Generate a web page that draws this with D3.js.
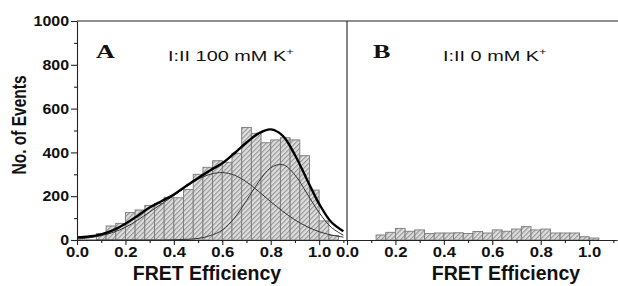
<!DOCTYPE html>
<html>
<head>
<meta charset="utf-8">
<script src="https://cdn.jsdelivr.net/npm/d3@7/dist/d3.min.js"></script>
<style>
body { margin: 0; background: #fff; }
svg { display: block; }
</style>
</head>
<body>
<div id="chart"></div>
<script>
// histogram bins: left edge of each 0.04 wide bin, and counts
var binsA = [0.08, 0.12, 0.16, 0.20, 0.24, 0.28, 0.32, 0.36, 0.40, 0.44, 0.48, 0.52, 0.56,
             0.60, 0.64, 0.68, 0.72, 0.76, 0.80, 0.84, 0.88, 0.92, 0.96, 1.00, 1.04];
var countsA = [30, 64, 76, 125, 137, 158, 167, 195, 193, 231, 300, 332, 362,
               355, 396, 514, 487, 444, 457, 467, 457, 385, 228, 87, 21];

var binsB = [0.12, 0.16, 0.20, 0.24, 0.28, 0.32, 0.36, 0.40, 0.44, 0.48, 0.52, 0.56,
             0.60, 0.64, 0.68, 0.72, 0.76, 0.80, 0.84, 0.88, 0.92, 0.96, 1.00];
var countsB = [23, 35, 53, 40, 46, 30, 32, 32, 33, 30, 39, 32,
               46, 40, 50, 61, 46, 50, 32, 32, 32, 15, 9];

// fitted curves of panel A
var fitE     = [0, 0.05, 0.1, 0.15, 0.2, 0.25, 0.3, 0.35, 0.4, 0.45, 0.5, 0.55,
                0.6, 0.65, 0.7, 0.75, 0.8, 0.85, 0.9, 0.95, 1.0, 1.05, 1.1];
var fitTotal = [12, 16, 26, 45, 74, 110, 148, 178, 208, 246, 283, 318,
                350, 396, 445, 487, 505, 476, 388, 275, 165, 82, 40];
var fitLow   = [5, 10, 20, 35, 58, 90, 128, 165, 203, 242, 277, 300,
                308, 296, 265, 222, 175, 131, 92, 61, 38, 23, 13];
var fitHigh  = [0, 0, 0, 0, 0, 0, 0, 0, 1, 3, 7, 20,
                45, 100, 180, 265, 330, 344, 297, 212, 125, 58, 22];

var xTicks = [0, 0.2, 0.4, 0.6, 0.8, 1.0];
var xMinor = [0.1, 0.3, 0.5, 0.7, 0.9, 1.1];
var yTicks = [0, 200, 400, 600, 800, 1000];
var yMinor = [100, 300, 500, 700, 900];

var binW = 0.04;

var W = 618, H = 286;
var plotTop = 21, plotBottom = 240, plotLeft = 77, plotMid = 347, plotRight = 617;
var axisColor = "#222";
var fontSans = "'Liberation Sans', Arial, sans-serif";

var svg = d3.select("#chart").append("svg")
    .attr("width", W)
    .attr("height", H);

// hatch for the bars
var defs = svg.append("defs");
var pat = defs.append("pattern")
    .attr("id", "hatch")
    .attr("patternUnits", "userSpaceOnUse")
    .attr("width", 3.4)
    .attr("height", 3.4)
    .attr("patternTransform", "rotate(45)");
pat.append("rect").attr("width", 3.4).attr("height", 3.4).attr("fill", "#dedede");
pat.append("line")
    .attr("x1", 0.6).attr("y1", 0).attr("x2", 0.6).attr("y2", 3.4)
    .attr("stroke", "#8c8c8c").attr("stroke-width", 1);

var y = d3.scaleLinear().domain([0, 1000]).range([plotBottom, plotTop]);

function stretch(sel, k) {
    sel.each(function () {
        var w = this.getComputedTextLength();
        d3.select(this).attr("textLength", w * k).attr("lengthAdjust", "spacingAndGlyphs");
    });
}

function drawPanel(x0, x1, bins, counts) {
    var x = d3.scaleLinear().domain([0, 1.115]).range([x0, x1]);
    var g = svg.append("g");

    g.selectAll("rect.bar")
        .data(bins)
        .enter()
        .append("rect")
        .attr("class", "bar")
        .attr("x", function (d) { return x(d); })
        .attr("y", function (d, i) { return y(counts[i]); })
        .attr("width", function (d) { return x(d + binW) - x(d); })
        .attr("height", function (d, i) { return y(0) - y(counts[i]); })
        .attr("fill", "url(#hatch)")
        .attr("stroke", "#7a7a7a")
        .attr("stroke-width", 0.9);

    // x axis, major and minor ticks
    var ax = g.append("g")
        .attr("transform", "translate(0," + plotBottom + ")")
        .call(d3.axisBottom(x).tickValues(xTicks).tickFormat(d3.format(".1f"))
            .tickSize(5).tickSizeOuter(0).tickPadding(2));
    g.append("g")
        .attr("transform", "translate(0," + plotBottom + ")")
        .call(d3.axisBottom(x).tickValues(xMinor).tickFormat("").tickSize(3).tickSizeOuter(0))
        .select(".domain").remove();
    g.selectAll(".domain, .tick line").attr("stroke", axisColor).attr("stroke-width", 1.1);
    ax.selectAll("text")
        .attr("fill", "#111")
        .style("font-family", fontSans)
        .style("font-size", "14.5px")
        .style("font-weight", "bold");
    stretch(ax.selectAll("text"), 1.15);
    return x;
}

var xA = drawPanel(plotLeft, plotMid, binsA, countsA);
var xB = drawPanel(plotMid, plotRight, binsB, countsB);

// fitted curves in panel A
function lineOf(vals) {
    return d3.line()
        .x(function (d, i) { return xA(fitE[i]); })
        .y(function (d) { return y(d); })
        .curve(d3.curveCatmullRom)(vals);
}
svg.append("path").attr("d", lineOf(fitLow))
    .attr("fill", "none").attr("stroke", "#333").attr("stroke-width", 1);
svg.append("path").attr("d", lineOf(fitHigh))
    .attr("fill", "none").attr("stroke", "#333").attr("stroke-width", 1);
svg.append("path").attr("d", lineOf(fitTotal))
    .attr("fill", "none").attr("stroke", "#000").attr("stroke-width", 2.4);

// y axis
var ay = svg.append("g")
    .attr("transform", "translate(" + plotLeft + ",0)")
    .call(d3.axisLeft(y).tickValues(yTicks).tickFormat(d3.format("d"))
        .tickSize(6).tickSizeOuter(0).tickPadding(2));
svg.append("g")
    .attr("transform", "translate(" + plotLeft + ",0)")
    .call(d3.axisLeft(y).tickValues(yMinor).tickFormat("").tickSize(3).tickSizeOuter(0))
    .select(".domain").remove();
svg.selectAll(".domain, .tick line").attr("stroke", axisColor).attr("stroke-width", 1.1);
ay.selectAll("text")
    .attr("fill", "#111")
    .style("font-family", fontSans)
    .style("font-size", "14.5px")
    .style("font-weight", "bold");
stretch(ay.selectAll("text"), 1.1);

// frame: top edge and the divider between the panels
svg.append("line")
    .attr("x1", plotLeft).attr("x2", W).attr("y1", plotTop).attr("y2", plotTop)
    .attr("stroke", axisColor).attr("stroke-width", 1.1);
svg.append("line")
    .attr("x1", plotMid).attr("x2", plotMid).attr("y1", plotTop).attr("y2", plotBottom)
    .attr("stroke", axisColor).attr("stroke-width", 1.1);

// axis titles
svg.append("text")
    .attr("x", 207).attr("y", 280)
    .attr("text-anchor", "middle")
    .style("font-family", fontSans).style("font-size", "19.5px").style("font-weight", "bold")
    .attr("fill", "#111")
    .text("FRET Efficiency");
svg.append("text")
    .attr("x", 506).attr("y", 280)
    .attr("text-anchor", "middle")
    .style("font-family", fontSans).style("font-size", "19.5px").style("font-weight", "bold")
    .attr("fill", "#111")
    .text("FRET Efficiency");
svg.append("text")
    .attr("transform", "translate(26,125) scale(1.35,1) rotate(-90)")
    .attr("text-anchor", "middle")
    .style("font-family", fontSans).style("font-size", "15.5px").style("font-weight", "bold")
    .attr("fill", "#111")
    .text("No. of Events");

// panel letters and conditions
function panelLabel(xp, letter, tx, cond) {
    svg.append("text")
        .attr("transform", "translate(" + xp + ",58) scale(1.45,1)")
        .style("font-family", "'Liberation Serif', 'Times New Roman', serif")
        .style("font-size", "18px").style("font-weight", "bold")
        .attr("fill", "#111")
        .text(letter);
    var t = svg.append("text")
        .attr("transform", "translate(" + tx + ",61) scale(1.42,1)")
        .style("font-family", fontSans).style("font-size", "14px")
        .attr("fill", "#111");
    t.append("tspan").text(cond);
    t.append("tspan").attr("dy", -6).style("font-size", "9px").text("+");
}
panelLabel(96, "A", 168, "I:II 100 mM K");
panelLabel(373, "B", 443, "I:II 0 mM K");
</script>
</body>
</html>
